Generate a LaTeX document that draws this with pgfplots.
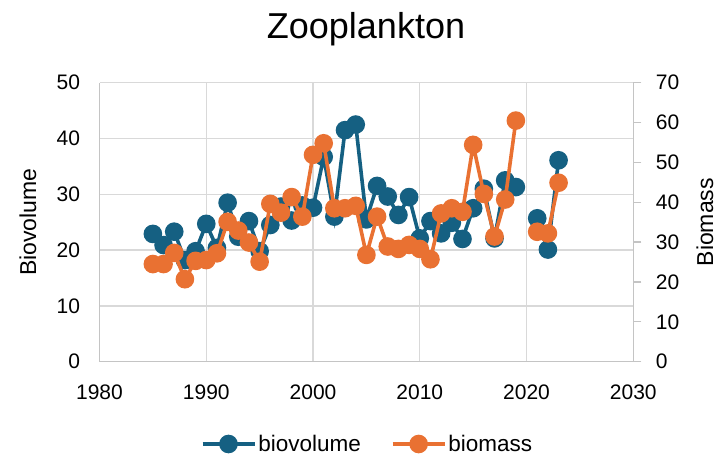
\documentclass[border=0pt]{standalone}
\usepackage{pgfplots}
\pgfplotsset{compat=1.18}
\usepackage{fontspec}
\setmainfont{Liberation Sans}

\definecolor{bvcol}{HTML}{156082}
\definecolor{bmcol}{HTML}{E97132}
\definecolor{gridc}{HTML}{D9D9D9}
\definecolor{axisc}{HTML}{C4C4C4}

\pgfplotstableread{
year biovolume
1985 22.9
1986 20.9
1987 23.3
1988 18.2
1989 19.8
1990 24.7
1991 20.4
1992 28.5
1993 22.4
1994 25.2
1995 19.8
1996 24.5
1997 27.8
1998 25.3
1999 28.0
2000 27.6
2001 36.7
2002 26.0
2003 41.5
2004 42.5
2005 25.5
2006 31.5
2007 29.6
2008 26.3
2009 29.5
2010 22.1
2011 25.2
2012 23.0
2013 24.9
2014 22.0
2015 27.5
2016 31.0
2017 22.1
2018 32.5
2019 31.3
2020 nan
2021 25.7
2022 20.1
2023 36.1
}\biovol

\pgfplotstableread{
year biomass
1985 24.5
1986 24.5
1987 27.3
1988 20.7
1989 25.3
1990 25.5
1991 27.2
1992 35.1
1993 32.9
1994 29.9
1995 25.1
1996 39.6
1997 37.4
1998 41.3
1999 36.4
2000 51.9
2001 54.8
2002 38.5
2003 38.5
2004 39.1
2005 26.8
2006 36.4
2007 28.9
2008 28.3
2009 29.3
2010 28.3
2011 25.7
2012 37.2
2013 38.5
2014 37.6
2015 54.4
2016 42.1
2017 31.4
2018 40.7
2019 60.5
2020 nan
2021 32.6
2022 32.2
2023 44.9
}\biomass

\pgfplotsset{
  common/.style={
    at={(99.5pt,93.3pt)}, anchor=south west,
    scale only axis, width=533.8pt, height=279pt,
    xmin=1980, xmax=2030,
    unbounded coords=jump,
    /pgf/number format/assume math mode=true,
    /pgf/number format/1000 sep={},
    tick label style={font=\fontsize{21}{25}\selectfont},
    label style={font=\fontsize{23}{27}\selectfont},
  },
  ser/.style={line width=3.6pt, mark=*, mark size=7.5pt, mark options={solid}},
}

\begin{document}
\begin{tikzpicture}
\useasboundingbox (0pt,0pt) rectangle (717pt,455pt);
\node[font=\fontsize{36}{40}\selectfont] at (366pt,426pt) {Zooplankton};

\begin{axis}[common,
    ymin=0, ymax=50,
    xtick={1980,1990,...,2030}, ytick={0,10,...,50},
    axis lines=left, axis line style={-, draw=axisc, line width=1.3pt},
    grid=major, major grid style={draw=gridc, line width=1.3pt},
    major tick length=0pt,
    yticklabel style={xshift=-16pt},
    xticklabel style={yshift=-20pt},
    ylabel={Biovolume},
    ylabel style={at={(axis description cs:-0.134,0.5)}, anchor=center},
  ]
  \addplot[ser, color=bvcol] table[x=year, y=biovolume] {\biovol};
\end{axis}

\begin{axis}[common,
    ymin=0, ymax=70, ytick={0,10,...,70},
    hide x axis, axis y line*=right,
    axis line style={-, draw=axisc, line width=1.3pt},
    major tick style={draw=axisc, line width=1.3pt},
    major tick length=8pt, tick align=outside,
    yticklabel style={xshift=11pt},
    ylabel={Biomass},
    ylabel style={at={(axis description cs:1.134,0.5)}, anchor=center},
    legend style={at={(axis description cs:0.502,-0.295)}, anchor=center,
      draw=none, fill=none, font=\fontsize{22.5}{26}\selectfont,
      legend columns=2,
      /tikz/every even column/.append style={column sep=28pt}},
    legend image code/.code={\draw[#1, mark repeat=2, mark phase=2]
      plot coordinates {(0pt,0pt) (26pt,0pt) (52pt,0pt)};},
  ]
  \addlegendimage{ser, color=bvcol}
  \addlegendentry{biovolume}
  \addplot[ser, color=bmcol] table[x=year, y=biomass] {\biomass};
  \addlegendentry{biomass}
\end{axis}
\end{tikzpicture}
\end{document}
